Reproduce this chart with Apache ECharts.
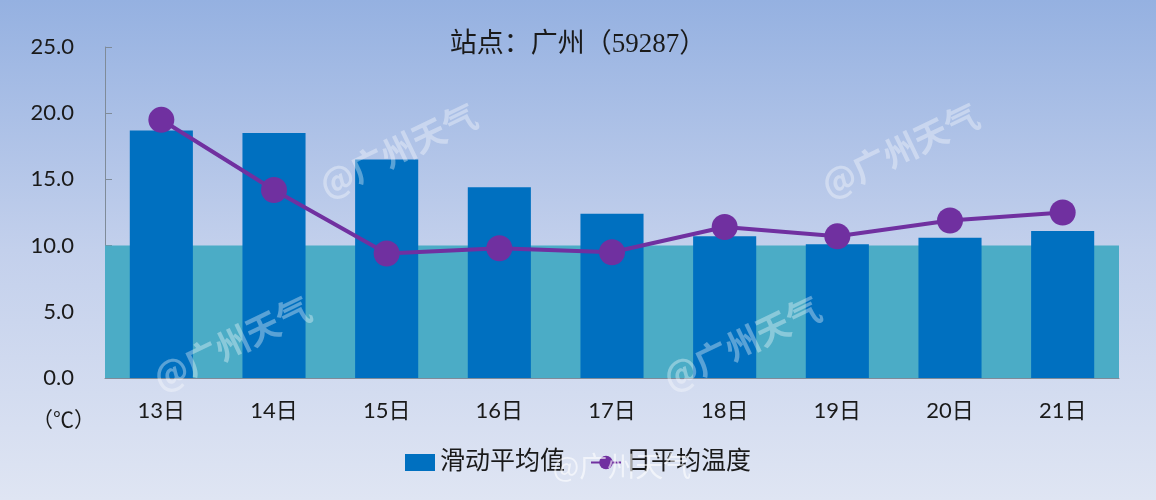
<!DOCTYPE html>
<html>
<head>
<meta charset="utf-8">
<script src="https://cdn.jsdelivr.net/npm/echarts@6/dist/echarts.min.js"></script>
<style>
html,body{margin:0;padding:0;}
#chart{width:1156px;height:500px;}
</style>
</head>
<body>
<div id="chart"></div>
<script>
const categories = ['13日','14日','15日','16日','17日','18日','19日','20日','21日'];
const movingAvg = [18.7, 18.5, 16.5, 14.4, 12.4, 10.7, 10.1, 10.6, 11.1];
const dailyAvg = [19.5, 14.2, 9.4, 9.8, 9.5, 11.4, 10.7, 11.9, 12.5];
const bandRange = [0, 10];
const yTicks = { min: 0, max: 25, interval: 5 };
const titleText = '站点：广州（59287）';
const unitText = '（℃）';
const seriesNames = ['滑动平均值', '日平均温度'];
const watermarkText = '@广州天气';

const chart = echarts.init(document.getElementById('chart'));
const cjk = "Lato, 'Noto Sans CJK SC', sans-serif";
const serifCjk = "'Liberation Serif', 'Noto Sans CJK SC', serif";

function wm(x, y, rot, size) {
  return {
    type: 'text', x: x, y: y, rotation: rot, z: 100,
    style: {
      text: watermarkText, fill: 'rgba(255,255,255,0.35)',
      font: 'bold ' + size + "px 'Noto Sans CJK SC', sans-serif",
      align: 'center', verticalAlign: 'middle'
    }
  };
}

chart.setOption({
  backgroundColor: {
    type: 'linear', x: 0, y: 0, x2: 0, y2: 1,
    colorStops: [
      { offset: 0, color: '#95b1e1' },
      { offset: 0.5, color: '#c3d0ec' },
      { offset: 1, color: '#dfe5f3' }
    ]
  },
  title: {
    text: titleText, left: 'center', top: 26,
    textStyle: { fontFamily: serifCjk, fontSize: 27, fontWeight: 'normal', color: '#1a1a1a' }
  },
  legend: {
    data: [
      { name: seriesNames[0], icon: 'rect' },
      { name: seriesNames[1] }
    ],
    left: 'center', top: 445,
    itemWidth: 30, itemHeight: 17, itemGap: 25,
    textStyle: { fontFamily: serifCjk, fontSize: 25, color: '#1a1a1a' }
  },
  grid: { left: 105, right: 37, top: 47, bottom: 122 },
  xAxis: {
    type: 'category', data: categories,
    axisLine: { lineStyle: { color: '#7f8b99', width: 1 } },
    axisTick: { show: false },
    axisLabel: { margin: 22, fontFamily: cjk, fontSize: 22, color: '#1a1a1a' }
  },
  yAxis: {
    type: 'value', min: yTicks.min, max: yTicks.max, interval: yTicks.interval,
    axisLine: { show: true, lineStyle: { color: '#7f8b99', width: 1 } },
    axisTick: { show: true, inside: true, length: 7, lineStyle: { color: '#7f8b99' } },
    splitLine: { show: false },
    axisLabel: {
      margin: 31, fontFamily: cjk, fontSize: 22, color: '#1a1a1a',
      formatter: v => v.toFixed(1)
    }
  },
  graphic: [
    {
      type: 'text', left: 32, top: 409,
      style: { text: unitText, font: "21px 'Noto Sans CJK SC', sans-serif", fill: '#1a1a1a' }
    },
    wm(398, 150, Math.PI / 7, 34),
    wm(900, 150, Math.PI / 7, 34),
    wm(232, 343, Math.PI / 7, 34),
    wm(742, 343, Math.PI / 7, 34),
    {
      type: 'text', x: 622, y: 466, z: 100,
      style: {
        text: watermarkText, fill: 'rgba(255,255,255,0.6)',
        font: "28px 'Noto Sans CJK SC', sans-serif", align: 'center', verticalAlign: 'middle'
      }
    }
  ],
  series: [
    {
      name: 'band', type: 'line', data: [], z: 1, silent: true,
      markArea: {
        silent: true,
        itemStyle: { color: '#4bacc6', opacity: 1 },
        data: [[{ yAxis: bandRange[0] }, { yAxis: bandRange[1] }]]
      }
    },
    {
      name: seriesNames[0], type: 'bar', data: movingAvg, z: 3,
      barWidth: '56%',
      itemStyle: { color: '#0070c0' }
    },
    {
      name: seriesNames[1], type: 'line', data: dailyAvg, z: 5,
      symbol: 'circle', symbolSize: 26,
      lineStyle: { color: '#7030a0', width: 4 },
      itemStyle: { color: '#7030a0' }
    }
  ],
  animation: false
});
</script>
</body>
</html>
